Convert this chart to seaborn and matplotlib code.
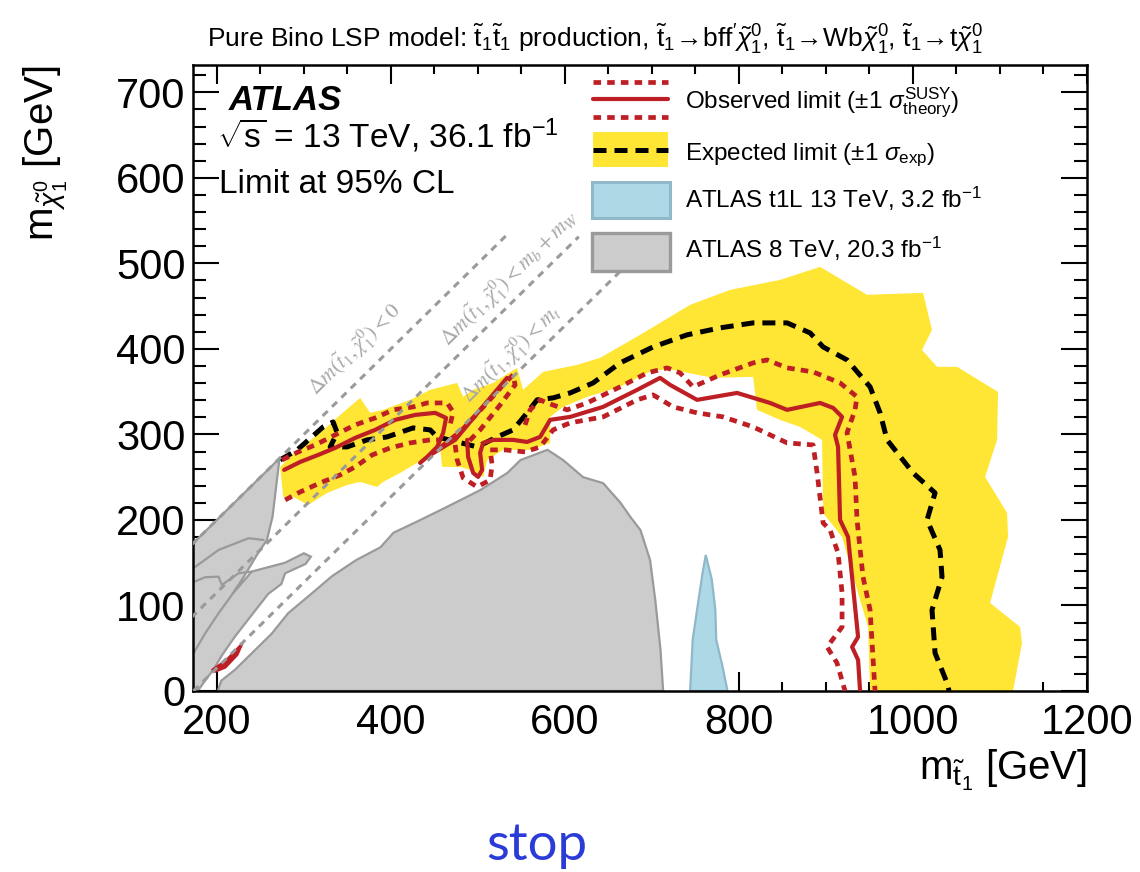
import numpy as np
import pandas as pd
import matplotlib
matplotlib.use("Agg")
import matplotlib.pyplot as plt
from matplotlib.ticker import MultipleLocator
from matplotlib.patches import Rectangle
import seaborn as sns

# ---------------- data (GeV) ----------------
# kinematic diagonals  m_chi = m_stop - offset
diag_offsets = [0.0, 84.8, 173.0]
diag_xmin = [160.0, 160.0, 173.0]
diag_xmax = [532.0, 616.0, 668.0]
diag_labels = [r"$\Delta m(\tilde{t}_1, \tilde{\chi}^0_1) < 0$",
               r"$\Delta m(\tilde{t}_1, \tilde{\chi}^0_1) < m_b + m_W$",
               r"$\Delta m(\tilde{t}_1, \tilde{\chi}^0_1) < m_t$"]
diag_label_x = [359, 537, 539]
diag_label_y = [399, 483, 394]

# ATLAS 8 TeV excluded regions
g8_main_x = [201, 205, 221, 240, 263, 282, 309, 332, 360, 388, 403, 434, 464, 503, 534, 549,
             580, 598, 621, 644, 664, 675, 687, 698, 704, 710, 713]
g8_main_y = [0, 12, 25, 44, 67, 91, 114, 134, 153, 168, 185, 200, 215, 235, 255, 270,
             282, 270, 250, 243, 220, 204, 188, 153, 106, 48, 0]
g8_left_x = [272, 160, 160, 178, 187, 196, 206, 221, 244, 259, 274, 278.5, 302, 308, 300,
             278.5, 240, 217, 231, 246, 257.5, 264]
g8_left_y = [272, 160, 0, 0, 13, 25, 42, 64, 94, 113.5, 125, 137.6, 148.6, 157, 161,
             150, 139.6, 112.3, 133.7, 159, 176.6, 204]
g8_in1_x = [160, 201.9, 236.4, 253.6]
g8_in1_y = [134, 164.9, 178.6, 176.6]
g8_in2_x = [160, 186.6, 201.9, 205.7, 224.9, 240.2]
g8_in2_y = [122, 133, 133.7, 124, 137.6, 139.6]
g8_in3_x = [165, 186.6, 201.9, 217.2]
g8_in3_y = [30, 67.5, 90.9, 112.3]

# ATLAS t1L 13 TeV excluded region
t1l_x = [744, 747, 752, 758, 762, 769, 773, 774, 781, 787]
t1l_y = [0, 60, 95, 136, 159, 130, 95, 60, 30, 0]

# expected +-1 sigma band (closed outline)
band_x = [272.7, 292.3, 318.7, 341.7, 364.7, 376.2, 391.1, 422.2, 445.1, 476.2, 483.1, 494.6,
          517.6, 545.1, 552, 575, 614.1, 640.5, 686.5, 744, 790, 847.4, 893.4, 947.4, 1011.8,
          1022.1, 1010.6, 1027.9, 1050.9, 1098, 1096.9, 1083.1, 1108.4, 1109.5, 1088.8, 1123.3,
          1125.6, 1115.2, 950.9,
          948.6, 937.1, 918.7, 896.9, 895.7, 870.4, 847.4, 821, 816.4, 770.4, 724.4, 701.5,
          663.5, 625.6, 598, 583.1, 583.1, 560.1, 529, 510.7, 506.1, 491.1, 479.6, 458.9,
          456.6, 441.7, 430.2, 410.7, 391.1, 384.2, 364.7, 349.7, 326.8, 304.9, 287.7, 276.2]
band_y = [262, 281.9, 301.8, 322.8, 342.7, 325.2, 328.7, 340.4, 352.1, 360.2, 343.9, 352.1,
          360.2, 377.8, 352.1, 373.1, 381.3, 389.5, 416.4, 451.5, 469, 480.7, 495.9, 463.2, 465.5,
          422.2, 398.8, 379, 379, 349.7, 293.6, 250.3, 208.2, 180.1, 102.9, 74.9,
          56.1, 0, 0,
          74.9, 114.6, 180.1, 208.2, 293.6, 308.8, 317, 328.7, 367.3, 366.1, 375.4, 375.4,
          355.6, 343.9, 332.2, 320.5, 290.1, 281.9, 281.9, 270.2, 250.3, 258.5, 262, 262,
          285.4, 273.7, 266.7, 255, 244.4, 238.6, 244.4, 240.9, 231.6, 217.5, 226.9, 226.9]

# expected limit
exp_x = [272.7, 292.3, 322.2, 333.6, 338.3, 330.2, 349.7, 372.7, 395.7, 425.6, 445.1, 453.2,
         499.2, 522.2, 540.5, 556.6, 568.1, 586.5, 606.1, 632.5, 663.5, 701.5, 740.5, 778.5,
         816.4, 855.5, 881.9, 896.9, 924.4, 950.9, 962.4, 970.4, 1000.3, 1025.6, 1016.4,
         1031.3, 1033.6, 1022.1, 1025.6, 1039.4, 1041.7]
exp_y = [270.2, 281.9, 308.8, 314.6, 301.8, 285.4, 285.4, 293.6, 297.1, 307.6, 305.3, 297.1,
         285.4, 297.1, 305.3, 325.2, 340.4, 342.7, 348.5, 360.2, 383.6, 402.3, 416.4, 424.6,
         430.4, 430.4, 418.7, 402.3, 387.1, 355.6, 325.2, 293.6, 255, 231.6, 200,
         164.9, 133.3, 94.7, 44.4, 9.4, 0]

# observed limit (main contour, left island, spike)
obs_x = [487.7, 488.8, 494.6, 500.3, 504.9, 502.6, 506.1, 517.6, 540.5, 556.6, 571.6, 583.1,
         606.1, 644, 683.1, 709.5, 721, 752, 798, 835.9, 855.5, 893.4, 908.4, 918.7, 910.6,
         914.1, 916.4, 925.6, 937.1, 930.2, 937.1, 939.4]
obs_y = [293.6, 273.7, 255, 250.3, 258.5, 278.4, 290.1, 293.6, 293.6, 291.2, 297.1, 317,
         320.5, 332.2, 352.1, 366.1, 357.9, 340.4, 348.5, 336.8, 328.7, 336.8, 331, 320.5, 299.4,
         285.4, 200, 180.1, 63.2, 51.5, 36.3, 0]
obs_left_x = [277.3, 295.7, 316.4, 335.9, 358.9, 381.9, 404.9, 427.9, 450.9, 463.5, 460.1,
              453.2, 441.7, 433.6]
obs_left_y = [258.5, 267.8, 276, 284.2, 295.9, 305.3, 317, 322.8, 325.2, 319.3, 301.8,
              285.4, 273.7, 266.7]
obs_spike_x = [445.1, 473.9, 502.6, 533.6]
obs_spike_y = [276, 293.6, 328.7, 366.1]

# observed +-1 sigma theory
obs_up_x = [554.3, 560.1, 571.6, 579.6, 602.6, 625.6, 663.5, 694.6, 717.6, 732.5, 747.4,
            778.5, 816.4, 832.5, 855.5, 885.4, 916.4, 935.9, 933.6, 924.4, 933.6, 935.9,
            942.8, 950.9, 956.6]
obs_up_y = [311.1, 328.7, 340.4, 336.8, 328.7, 336.8, 355.6, 371.9, 377.8, 371.9, 355.6,
            369.6, 383.6, 387.1, 377.8, 373.1, 360.2, 343.9, 328.7, 301.8, 250.3, 200,
            133.3, 94.7, 0]
obs_dn_x = [473.9, 476.2, 483.1, 499.2, 514.1, 516.4, 514.1, 531.3, 554.3, 571.6, 586.5,
            606.1, 644, 683.1, 701.5, 724.4, 752, 781.9, 816.4, 855.5, 885.4, 890, 896.9,
            904.9, 914.1, 918.7, 918.7, 901.5, 912.9, 922.1]
obs_dn_y = [287.7, 270.2, 249.1, 238.6, 246.8, 264.3, 281.9, 281.9, 279.5, 285.4, 305.3,
            313.5, 320.5, 340.4, 346.2, 332.2, 325.2, 320.5, 308.8, 290.1, 287.7, 255, 196.5,
            188.3, 161.4, 114.6, 74.9, 51.5, 32.7, 0]
obs_left_up_x = [275, 293.4, 313, 335.9, 358.9, 381.9, 402.6, 425.6, 441.7, 464.7, 471.6, 468.1]
obs_left_up_y = [270.2, 279.5, 287.7, 299.4, 311.1, 319.3, 328.7, 332.2, 336.8, 336.8, 326.3, 311.1]
obs_left_dn_x = [278.5, 295.7, 318.7, 341.7, 358.9, 378.5, 399.2, 422.2, 445.1, 456.6]
obs_left_dn_y = [223.4, 232.7, 243.3, 252.6, 262, 276, 284.2, 290.1, 293.6, 293.6]
obs_spike_band_x = [456.6, 481.9, 508.4, 531.3, 540.5, 542.8, 525.6, 502.6, 485.4]
obs_spike_band_y = [284.2, 305.3, 334.5, 360.2, 369.6, 357.9, 334.5, 305.3, 287.7]
obs_tiny_x = [194, 210, 227, 230, 224, 210, 198]
obs_tiny_y = [25, 36, 54, 56, 42, 27, 22]

x_ticks = [200, 400, 600, 800, 1000, 1200]
y_ticks = [0, 100, 200, 300, 400, 500, 600, 700]

# ---------------- style ----------------
sns.set_theme(style="ticks")
plt.rcParams["font.family"] = ["Liberation Sans", "DejaVu Sans"]
plt.rcParams["mathtext.fontset"] = "custom"
plt.rcParams["mathtext.rm"] = "Liberation Sans"
plt.rcParams["mathtext.it"] = "Liberation Sans:italic"
plt.rcParams["mathtext.bf"] = "Liberation Sans:bold"
plt.rcParams["mathtext.sf"] = "Liberation Sans"
plt.rcParams["text.color"] = "black"
plt.rcParams["axes.labelcolor"] = "black"

RED = "#bd1f24"
YELLOW = "#ffe534"
GRAYF = "#cccccc"
GRAYE = "#9a9a9a"
BLUEF = "#add8e6"
BLUEE = "#90b8c8"
DOT = (0, (1.6, 1.3))

fig = plt.figure(figsize=(11.4, 8.72), dpi=100)
ax = fig.add_axes([0.1689, 0.2076, 0.7844, 0.7179])
ax.set_xlim(172, 1200)
ax.set_ylim(0, 732)


def line(xs, ys, color, lw, ls="-", z=4):
    sns.lineplot(x=xs, y=ys, sort=False, estimator=None, color=color, lw=lw, ax=ax,
                 zorder=z)
    ln = ax.lines[-1]
    ln.set_linestyle(ls)
    ln.set_dash_capstyle("butt")
    return ln


# fills
ax.fill(g8_main_x, g8_main_y, fc=GRAYF, ec=GRAYE, lw=1.6, zorder=1)
ax.fill(g8_left_x, g8_left_y, fc=GRAYF, ec=GRAYE, lw=1.6, zorder=1)
for xs, ys in [(g8_in1_x, g8_in1_y), (g8_in2_x, g8_in2_y), (g8_in3_x, g8_in3_y)]:
    line(xs, ys, GRAYE, 1.6, "-", z=1.1)
ax.fill(t1l_x, t1l_y, fc=BLUEF, ec=BLUEE, lw=1.6, zorder=1.5)
ax.fill(band_x, band_y, fc=YELLOW, ec="none", zorder=2)
ax.fill(obs_tiny_x, obs_tiny_y, fc=RED, ec=RED, lw=1, zorder=3)

# limit lines
line(exp_x, exp_y, "black", 3.6, (0, (2.6, 1.6)), z=4)
line(obs_x, obs_y, RED, 3.0, "-", z=5)
line(obs_left_x, obs_left_y, RED, 3.0, "-", z=5)
line(obs_spike_x, obs_spike_y, RED, 3.0, "-", z=5)
for xs, ys in [(obs_up_x, obs_up_y), (obs_dn_x, obs_dn_y), (obs_left_up_x, obs_left_up_y),
               (obs_left_dn_x, obs_left_dn_y), (obs_spike_band_x, obs_spike_band_y)]:
    line(xs, ys, RED, 3.4, DOT, z=5)

# kinematic diagonals
for off, x0, x1 in zip(diag_offsets, diag_xmin, diag_xmax):
    xs = np.array([max(x0, off), x1])
    line(xs, xs - off, "#9a9a9a", 2.2, (0, (2.3, 2.0)), z=6)

fig.canvas.draw()
p0 = ax.transData.transform((300, 300))
p1 = ax.transData.transform((400, 400))
ang = np.degrees(np.arctan2(p1[1] - p0[1], p1[0] - p0[0]))
for lab, lx, ly in zip(diag_labels, diag_label_x, diag_label_y):
    ax.text(lx, ly, lab, rotation=ang, rotation_mode="anchor", ha="center", va="center",
            fontsize=15.5, color="#a8a8a8", math_fontfamily="stix", zorder=6)

# axes styling
ax.set_xticks(x_ticks)
ax.set_yticks(y_ticks)
ax.xaxis.set_minor_locator(MultipleLocator(50))
ax.yaxis.set_minor_locator(MultipleLocator(20))
ax.tick_params(which="both", direction="in", top=True, right=True, colors="black",
               width=1.5)
ax.tick_params(axis="x", which="major", length=13.5, labelsize=30, pad=9)
ax.tick_params(axis="x", which="minor", length=6.5)
ax.tick_params(axis="y", which="major", length=18.5, labelsize=30, pad=5)
ax.tick_params(axis="y", which="minor", length=9.4)
for sp in ax.spines.values():
    sp.set_linewidth(1.8)
    sp.set_color("black")
ax.grid(False)

ax.set_xlabel(r"$\mathrm{m}_{\tilde{\mathrm{t}}_1}$ [GeV]", fontsize=29, loc="right")
ax.xaxis.set_label_coords(1.0, -0.09)
ax.set_ylabel(r"$\mathrm{m}_{\tilde{\chi}^0_1}$ [GeV]", fontsize=29, loc="top")
ax.yaxis.set_label_coords(-0.137, 1.0)

# ATLAS labels
ax.text(0.041, 0.928, "ATLAS", transform=ax.transAxes, fontsize=25, fontweight="bold",
        fontstyle="italic", va="baseline", ha="left")
ax.text(0.027, 0.867, r"$\sqrt{\mathrm{s}}$ = 13 TeV, 36.1 fb$^{-1}$", transform=ax.transAxes,
        fontsize=24, va="baseline", ha="left")
ax.text(0.030, 0.795, "Limit at 95% CL", transform=ax.transAxes, fontsize=24,
        va="baseline", ha="left")

# legend (manual, ROOT style)
lx0, lx1 = 0.4479, 0.5321
T = ax.transAxes
ax.plot([lx0, lx1], [0.9733, 0.9733], transform=T, color=RED, lw=3.4, ls=DOT, clip_on=False, zorder=10)
ax.plot([lx0, lx1], [0.9457, 0.9457], transform=T, color=RED, lw=3.0, clip_on=False, zorder=10)
ax.plot([lx0, lx1], [0.9174, 0.9174], transform=T, color=RED, lw=3.4, ls=DOT, clip_on=False, zorder=10)
ax.add_patch(Rectangle((lx0, 0.8366), lx1 - lx0, 0.8935 - 0.8366, transform=T, fc=YELLOW,
                       ec="none", zorder=10))
ax.plot([lx0, lx1], [0.8642, 0.8642], transform=T, color="black", lw=3.6, ls=(0, (2.6, 1.6)),
        clip_on=False, zorder=11)
ax.add_patch(Rectangle((0.4468, 0.7551), 0.0872, 0.0585, transform=T, fc=BLUEF, ec=BLUEE,
                       lw=2.2, zorder=10))
ax.add_patch(Rectangle((0.4468, 0.6709), 0.0872, 0.0612, transform=T, fc=GRAYF, ec=GRAYE,
                       lw=2.4, zorder=10))
leg_texts = [r"Observed limit ($\pm$1 $\sigma^{\mathrm{SUSY}}_{\mathrm{theory}}$)",
             r"Expected limit ($\pm$1 $\sigma_{\mathrm{exp}}$)",
             r"ATLAS t1L 13 TeV, 3.2 fb$^{-1}$",
             r"ATLAS 8 TeV, 20.3 fb$^{-1}$"]
for t, yb in zip(leg_texts, [0.931, 0.848, 0.772, 0.692]):
    ax.text(0.551, yb, t, transform=T, fontsize=17.5, va="baseline", ha="left", zorder=11)

# figure texts
fig.text(595 / 1140, 1 - 47 / 872,
         r"Pure Bino LSP model: $\tilde{\mathrm{t}}_1\tilde{\mathrm{t}}_1$ production, "
         r"$\tilde{\mathrm{t}}_1\!\rightarrow\!\mathrm{bff}^{\prime}\tilde{\chi}^0_1$, "
         r"$\tilde{\mathrm{t}}_1\!\rightarrow\!\mathrm{Wb}\tilde{\chi}^0_1$, "
         r"$\tilde{\mathrm{t}}_1\!\rightarrow\!\mathrm{t}\tilde{\chi}^0_1$",
         ha="center", va="baseline", fontsize=19)
fig.text(537 / 1140, 1 - 860 / 872, "stop", ha="center", va="baseline", fontsize=38,
         color="#2b3bd8", family=["Lato", "DejaVu Sans"])

fig.savefig("out.png", dpi=100)
